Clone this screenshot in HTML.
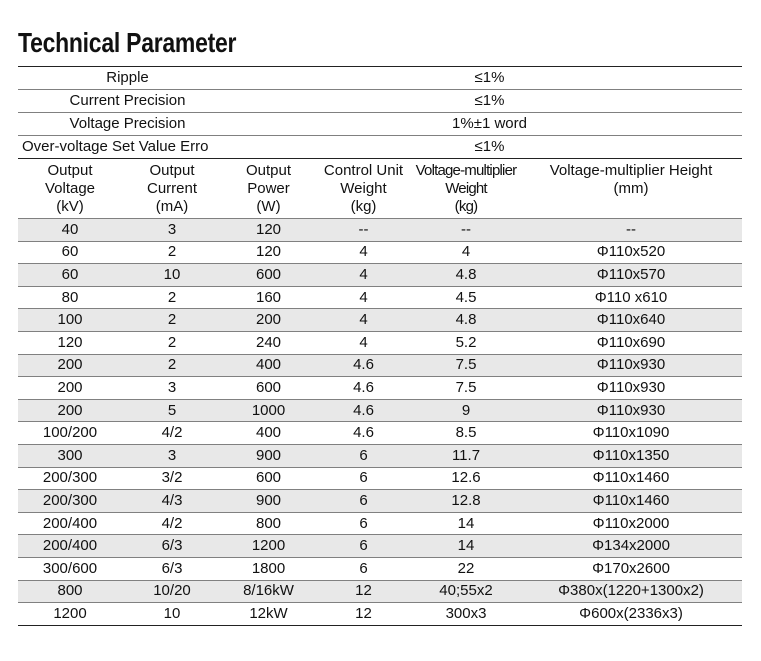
<!DOCTYPE html>
<html><head><meta charset="utf-8"><style>
body{margin:0;width:761px;height:661px;background:#fff;font-family:"Liberation Sans",sans-serif;color:#111;position:relative;overflow:hidden}
h1{position:absolute;left:18px;top:27px;margin:0;font-family:"Liberation Sans Narrow","Liberation Sans",sans-serif;font-weight:bold;font-size:28px;letter-spacing:-0.3px;transform:scaleX(0.82);transform-origin:left}
table{position:absolute;left:18px;border-collapse:collapse;width:724px;table-layout:fixed;font-size:15px}
td{padding:0;text-align:center;border-bottom:1.5px solid #808080;white-space:nowrap;line-height:18px}
#p{top:66px;border-top:1.5px solid #222}
#p td{height:22px}
#p tr:last-child td{border-bottom:1.5px solid #222}
#d{top:158px}
#d tr.h td{vertical-align:top;padding-top:4px;height:56px}
#d tr td{height:21.6px}
#d tr:nth-child(even) td{background:#e8e8e8}
#d tr:last-child td{border-bottom:1.5px solid #222}
.vm{letter-spacing:-0.8px}
</style></head><body>
<h1>Technical Parameter</h1>
<table id="p">
<col style="width:219px"><col>
<tr><td>Ripple</td><td>≤1%</td></tr>
<tr><td>Current Precision</td><td>≤1%</td></tr>
<tr><td>Voltage Precision</td><td>1%±1 word</td></tr>
<tr><td style="text-align:left;padding-left:4px">Over-voltage Set Value Erro</td><td>≤1%</td></tr>
</table>
<table id="d">
<col style="width:104px"><col style="width:100px"><col style="width:93px"><col style="width:97px"><col style="width:108px"><col>
<tr class="h"><td>Output<br>Voltage<br>(kV)</td><td>Output<br>Current<br>(mA)</td><td>Output<br>Power<br>(W)</td><td>Control Unit<br>Weight<br>(kg)</td><td class="vm">Voltage-multiplier<br>Weight<br>(kg)</td><td>Voltage-multiplier Height<br>(mm)</td></tr>
<tr><td>40</td><td>3</td><td>120</td><td>--</td><td>--</td><td>--</td></tr>
<tr><td>60</td><td>2</td><td>120</td><td>4</td><td>4</td><td>Φ110x520</td></tr>
<tr><td>60</td><td>10</td><td>600</td><td>4</td><td>4.8</td><td>Φ110x570</td></tr>
<tr><td>80</td><td>2</td><td>160</td><td>4</td><td>4.5</td><td>Φ110 x610</td></tr>
<tr><td>100</td><td>2</td><td>200</td><td>4</td><td>4.8</td><td>Φ110x640</td></tr>
<tr><td>120</td><td>2</td><td>240</td><td>4</td><td>5.2</td><td>Φ110x690</td></tr>
<tr><td>200</td><td>2</td><td>400</td><td>4.6</td><td>7.5</td><td>Φ110x930</td></tr>
<tr><td>200</td><td>3</td><td>600</td><td>4.6</td><td>7.5</td><td>Φ110x930</td></tr>
<tr><td>200</td><td>5</td><td>1000</td><td>4.6</td><td>9</td><td>Φ110x930</td></tr>
<tr><td>100/200</td><td>4/2</td><td>400</td><td>4.6</td><td>8.5</td><td>Φ110x1090</td></tr>
<tr><td>300</td><td>3</td><td>900</td><td>6</td><td>11.7</td><td>Φ110x1350</td></tr>
<tr><td>200/300</td><td>3/2</td><td>600</td><td>6</td><td>12.6</td><td>Φ110x1460</td></tr>
<tr><td>200/300</td><td>4/3</td><td>900</td><td>6</td><td>12.8</td><td>Φ110x1460</td></tr>
<tr><td>200/400</td><td>4/2</td><td>800</td><td>6</td><td>14</td><td>Φ110x2000</td></tr>
<tr><td>200/400</td><td>6/3</td><td>1200</td><td>6</td><td>14</td><td>Φ134x2000</td></tr>
<tr><td>300/600</td><td>6/3</td><td>1800</td><td>6</td><td>22</td><td>Φ170x2600</td></tr>
<tr><td>800</td><td>10/20</td><td>8/16kW</td><td>12</td><td>40;55x2</td><td>Φ380x(1220+1300x2)</td></tr>
<tr><td>1200</td><td>10</td><td>12kW</td><td>12</td><td>300x3</td><td>Φ600x(2336x3)</td></tr>
</table>
</body></html>
